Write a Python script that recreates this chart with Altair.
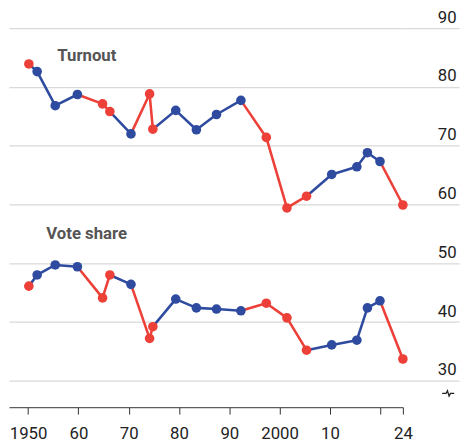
import altair as alt
import pandas as pd

# Election dates (decimal years) and the winning party
years = [1950.15, 1951.8, 1955.4, 1959.8, 1964.8, 1966.25, 1970.45, 1974.15, 1974.8,
         1979.35, 1983.45, 1987.45, 1992.3, 1997.35, 2001.45, 2005.35, 2010.35,
         2015.35, 2017.45, 2019.95, 2024.5]
parties = ["Labour", "Conservative", "Conservative", "Conservative", "Labour", "Labour",
           "Conservative", "Labour", "Labour", "Conservative", "Conservative",
           "Conservative", "Conservative", "Labour", "Labour", "Labour", "Conservative",
           "Conservative", "Conservative", "Conservative", "Labour"]
turnout = [83.9, 82.6, 76.8, 78.7, 77.1, 75.8, 72.0, 78.8, 72.8, 76.0, 72.7, 75.3,
           77.7, 71.4, 59.4, 61.4, 65.1, 66.4, 68.8, 67.3, 59.9]
vote_share = [46.1, 48.0, 49.7, 49.4, 44.1, 48.0, 46.4, 37.2, 39.2, 43.9, 42.4, 42.2,
              41.9, 43.2, 40.7, 35.2, 36.1, 36.9, 42.4, 43.6, 33.7]

x_tick_values = [1950, 1960, 1970, 1980, 1990, 2000, 2010, 2020, 2024.5]
x_tick_labels = ["1950", "60", "70", "80", "90", "2000", "10", "", "24"]
y_tick_values = [30, 40, 50, 60, 70, 80, 90]

label_names = ["Turnout", "Vote share"]
label_x = [1955.8, 1953.6]
label_y = [85.2, 54.9]

RED = "#EC4039"
BLUE = "#2F4BA0"

series = {"Turnout": turnout, "Vote share": vote_share}
pts = []
segs = []
for name, vals in series.items():
    for i, (yr, v, p) in enumerate(zip(years, vals, parties)):
        pts.append({"metric": name, "year": yr, "value": v, "party": p, "order": i})
        if i > 0:
            segs.append({"metric": name, "year": years[i - 1], "value": vals[i - 1],
                         "year2": yr, "value2": v, "party": p})
pts = pd.DataFrame(pts)
segs = pd.DataFrame(segs)
labels = pd.DataFrame({"name": label_names, "x": label_x, "y": label_y})

label_expr = " : ".join(
    f"datum.value == {v} ? '{l}'" for v, l in zip(x_tick_values, x_tick_labels)
) + " : ''"

xscale = alt.Scale(domain=[1946.2, 2024.5], nice=False, zero=False)
yscale = alt.Scale(domain=[25.5, 90], nice=False, zero=False)
color = alt.Color("party:N", scale=alt.Scale(domain=["Labour", "Conservative"],
                                             range=[RED, BLUE]), legend=None)

x_axis = alt.Axis(values=x_tick_values, labelExpr=label_expr, title=None, grid=False,
                  domainColor="#333333", domainWidth=1, tickColor="#333333",
                  tickSize=7, tickWidth=1, labelFont="Roboto", labelFontSize=17,
                  labelColor="#222222", labelPadding=12, labelFlush=False)
y_axis = alt.Axis(orient="right", values=y_tick_values, title=None, domain=False,
                  grid=True, gridColor="#d9d9d9", gridWidth=1.3,
                  tickColor="#d9d9d9", tickWidth=1.3, tickSize=57,
                  labelAlign="right", labelPadding=-3, labelBaseline="alphabetic",
                  labelOffset=-6, labelFont="Roboto", labelFontSize=17,
                  labelColor="#222222")

lines = alt.Chart(segs).mark_rule(strokeWidth=2.6, strokeCap="round").encode(
    x=alt.X("year:Q", scale=xscale, axis=x_axis),
    x2="year2:Q",
    y=alt.Y("value:Q", scale=yscale, axis=y_axis),
    y2="value2:Q",
    color=color,
)

points = alt.Chart(pts).mark_circle(size=95, opacity=1).encode(
    x=alt.X("year:Q", scale=xscale),
    y=alt.Y("value:Q", scale=yscale),
    color=color,
    order="order:Q",
)

texts = alt.Chart(labels).mark_text(align="left", baseline="middle", font="Roboto",
                                    fontSize=17, fontWeight="bold",
                                    color="#555555").encode(
    x=alt.X("x:Q", scale=xscale),
    y=alt.Y("y:Q", scale=yscale),
    text="name:N",
)

# axis-break glyph drawn as a small custom path
break_path = "M-1,0 L-0.35,0 L-0.12,-0.45 L0.15,0.45 L0.38,0 L1,0"
brk = alt.Chart(pd.DataFrame({"t": ["break"]})).mark_point(
    shape=break_path, filled=False, stroke="#222222", strokeWidth=1.3,
    size=150, opacity=1).encode(x=alt.value(446), y=alt.value(371))

chart = alt.layer(lines, points, texts, brk).properties(
    width=400, height=385,
    padding={"left": 1, "top": 17, "right": 58, "bottom": 37},
    autosize=alt.AutoSizeParams(type="none"),
    background="white",
).configure_view(stroke=None)

chart.save("out.html", embed_options={"renderer": "svg", "actions": False})
